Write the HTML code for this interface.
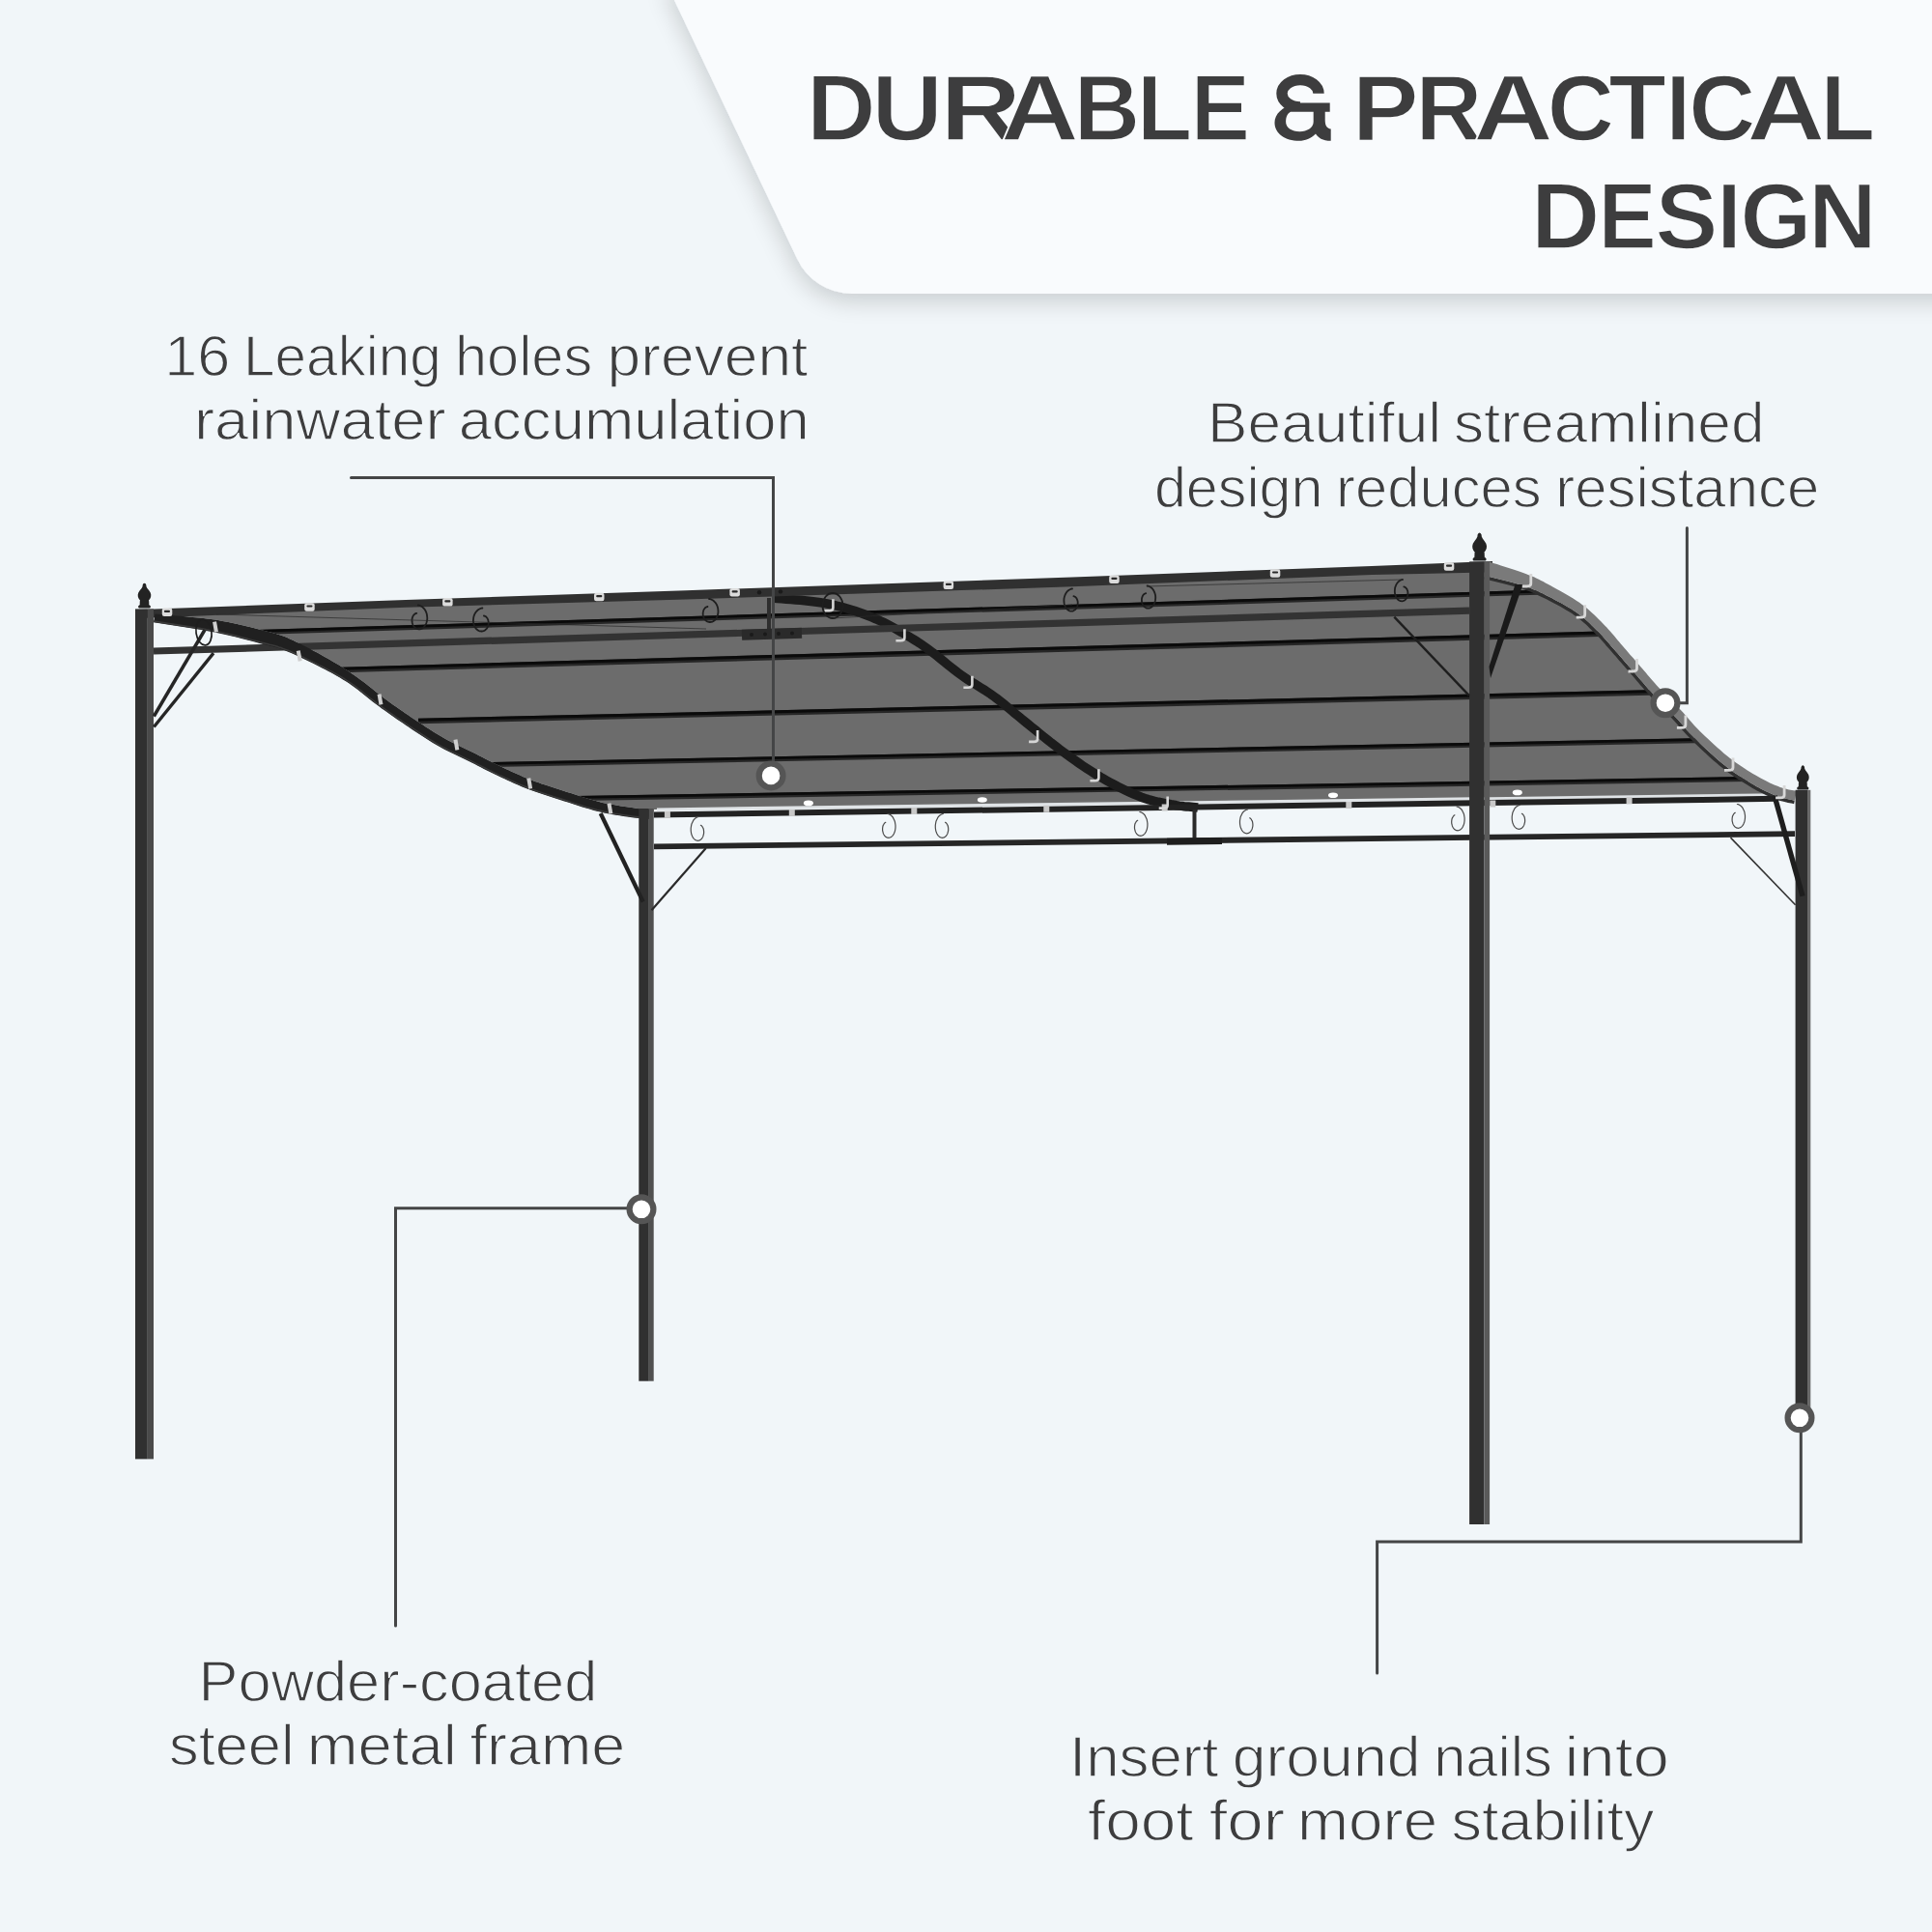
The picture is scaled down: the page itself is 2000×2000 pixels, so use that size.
<!DOCTYPE html><html><head><meta charset="utf-8"><style>html,body{margin:0;padding:0;background:#f1f6f9;}svg{display:block}</style></head><body>
<svg xmlns="http://www.w3.org/2000/svg" width="2000" height="2000" viewBox="0 0 2000 2000">
<defs><filter id="shadow" x="-20%" y="-30%" width="140%" height="170%"><feGaussianBlur in="SourceAlpha" stdDeviation="12"/><feOffset dx="-1" dy="8"/><feComponentTransfer><feFuncA type="linear" slope="0.17"/></feComponentTransfer><feMerge><feMergeNode/><feMergeNode in="SourceGraphic"/></feMerge></filter></defs>
<rect width="2000" height="2000" fill="#f1f6f9"/>
<path d="M688.5,-20 L825.4,268.3 A62.5,62.5 0 0 0 881.9,304 L2030,304 L2030,-20 Z" fill="#f9fbfd" filter="url(#shadow)"/>
<g font-family="Liberation Sans" font-weight="700" font-size="96.5" fill="#3d3d3e" stroke="#f9fbfd" stroke-width="1.6">
<text x="834.9" y="145" textLength="71.6" lengthAdjust="spacingAndGlyphs">D</text>
<text x="902.6" y="145" textLength="73.4" lengthAdjust="spacingAndGlyphs">U</text>
<text x="972.9" y="145" textLength="84.4" lengthAdjust="spacingAndGlyphs">R</text>
<text x="1035.7" y="145" textLength="81.2" lengthAdjust="spacingAndGlyphs">A</text>
<text x="1111.7" y="145" textLength="68.4" lengthAdjust="spacingAndGlyphs">B</text>
<text x="1177.1" y="145" textLength="57.1" lengthAdjust="spacingAndGlyphs">L</text>
<text x="1232.7" y="145" textLength="61.2" lengthAdjust="spacingAndGlyphs">E</text>
<g stroke="none"><path d="M1365,96.8 A19,14.2 0 1 0 1346,111" fill="none" stroke="#3d3d3e" stroke-width="11.4"/><path fill="#3d3d3e" d="M1340,106.4 L1376.7,106.4 L1376.7,115.8 L1371.7,115.8 L1371.7,124 C1371.7,130 1373.5,133 1377.7,133.4 L1377.7,145.8 C1369,145.8 1364.5,142.5 1362,138.5 C1357,143.5 1351,145.8 1345,145.8 C1330,145.8 1319.5,138 1319.5,127 C1319.5,118 1327,111 1340,106.4 Z"/><path fill="#f9fbfd" d="M1336,115.8 L1359.7,115.8 L1359.7,126 C1359.7,132 1353,136.3 1345.5,136.3 C1337,136.3 1331.1,132 1331.1,126 C1331.1,120.5 1333,117.5 1336,115.8 Z"/></g>
<text x="1399.7" y="145" textLength="68.9" lengthAdjust="spacingAndGlyphs">P</text>
<text x="1465.5" y="145" textLength="68.8" lengthAdjust="spacingAndGlyphs">R</text>
<text x="1525.0" y="145" textLength="83.0" lengthAdjust="spacingAndGlyphs">A</text>
<text x="1601.7" y="145" textLength="69.2" lengthAdjust="spacingAndGlyphs">C</text>
<text x="1665.3" y="145" textLength="59.6" lengthAdjust="spacingAndGlyphs">T</text>
<text x="1724.4" y="145" textLength="25.6" lengthAdjust="spacingAndGlyphs">I</text>
<text x="1748.2" y="145" textLength="69.1" lengthAdjust="spacingAndGlyphs">C</text>
<text x="1808.3" y="145" textLength="81.2" lengthAdjust="spacingAndGlyphs">A</text>
<text x="1884.7" y="145" textLength="56.3" lengthAdjust="spacingAndGlyphs">L</text>
<text x="1585.1" y="257" textLength="71.3" lengthAdjust="spacingAndGlyphs">D</text>
<text x="1654.4" y="257" textLength="60.2" lengthAdjust="spacingAndGlyphs">E</text>
<text x="1713.5" y="257" textLength="64.9" lengthAdjust="spacingAndGlyphs">S</text>
<text x="1777.6" y="257" textLength="25.0" lengthAdjust="spacingAndGlyphs">I</text>
<text x="1801.4" y="257" textLength="73.8" lengthAdjust="spacingAndGlyphs">G</text>
<text x="1871.9" y="257" textLength="70.8" lengthAdjust="spacingAndGlyphs">N</text>
</g>
<g font-family="Liberation Sans" font-weight="400" fill="#3d3d3e" font-size="59.5" stroke="#f1f6f9" stroke-width="1.3">
<text x="170.3" y="388.8" textLength="68.1" lengthAdjust="spacingAndGlyphs">16</text>
<text x="252.1" y="388.8" textLength="204.8" lengthAdjust="spacingAndGlyphs">Leaking</text>
<text x="471.0" y="388.8" textLength="142.2" lengthAdjust="spacingAndGlyphs">holes</text>
<text x="628.5" y="388.8" textLength="207.9" lengthAdjust="spacingAndGlyphs">prevent</text>
<text x="200.9" y="455.3" textLength="260.8" lengthAdjust="spacingAndGlyphs">rainwater</text>
<text x="474.8" y="455.3" textLength="363.0" lengthAdjust="spacingAndGlyphs">accumulation</text>
<text x="1250.1" y="458.3" textLength="242.1" lengthAdjust="spacingAndGlyphs">Beautiful</text>
<text x="1504.9" y="458.3" textLength="321.7" lengthAdjust="spacingAndGlyphs">streamlined</text>
<text x="1194.9" y="524.6" textLength="174.6" lengthAdjust="spacingAndGlyphs">design</text>
<text x="1383.0" y="524.6" textLength="212.7" lengthAdjust="spacingAndGlyphs">reduces</text>
<text x="1610.3" y="524.6" textLength="272.9" lengthAdjust="spacingAndGlyphs">resistance</text>
<text x="205.6" y="1760.9" textLength="412.7" lengthAdjust="spacingAndGlyphs">Powder-coated</text>
<text x="175.0" y="1827.1" textLength="129.6" lengthAdjust="spacingAndGlyphs">steel</text>
<text x="317.7" y="1827.1" textLength="155.1" lengthAdjust="spacingAndGlyphs">metal</text>
<text x="486.6" y="1827.1" textLength="160.7" lengthAdjust="spacingAndGlyphs">frame</text>
<text x="1107.0" y="1839" textLength="154.5" lengthAdjust="spacingAndGlyphs">Insert</text>
<text x="1275.7" y="1839" textLength="194.8" lengthAdjust="spacingAndGlyphs">ground</text>
<text x="1484.2" y="1839" textLength="122.7" lengthAdjust="spacingAndGlyphs">nails</text>
<text x="1619.4" y="1839" textLength="108.4" lengthAdjust="spacingAndGlyphs">into</text>
<text x="1126.0" y="1905" textLength="109.6" lengthAdjust="spacingAndGlyphs">foot</text>
<text x="1251.7" y="1905" textLength="78.5" lengthAdjust="spacingAndGlyphs">for</text>
<text x="1343.1" y="1905" textLength="145.0" lengthAdjust="spacingAndGlyphs">more</text>
<text x="1502.6" y="1905" textLength="210.0" lengthAdjust="spacingAndGlyphs">stability</text>
</g>
<path d="M150.0,636.0 L1545.0,587.0 L1537.3,595.9 L1541.3,596.9 L1545.4,597.9 L1549.5,599.0 L1553.6,600.0 L1557.7,601.0 L1561.6,602.0 L1565.4,603.0 L1569.1,603.9 L1572.4,604.9 L1575.6,605.9 L1578.5,606.8 L1581.1,607.7 L1583.4,608.6 L1585.7,609.5 L1587.8,610.4 L1589.9,611.3 L1592.1,612.3 L1594.5,613.4 L1597.1,614.6 L1599.9,616.0 L1603.0,617.5 L1606.2,619.1 L1609.5,620.9 L1612.9,622.7 L1616.4,624.6 L1619.8,626.5 L1623.1,628.4 L1626.3,630.3 L1629.2,632.2 L1631.9,634.0 L1634.5,635.9 L1636.9,637.7 L1639.2,639.6 L1641.5,641.6 L1643.7,643.6 L1645.9,645.6 L1648.0,647.7 L1650.1,649.8 L1652.3,651.9 L1654.4,654.0 L1656.4,656.0 L1658.3,658.0 L1660.1,660.0 L1661.9,662.0 L1663.7,664.1 L1665.5,666.1 L1667.3,668.2 L1669.2,670.4 L1671.1,672.5 L1673.0,674.7 L1674.9,676.8 L1676.7,679.0 L1678.6,681.1 L1680.4,683.3 L1682.3,685.4 L1684.2,687.5 L1686.0,689.7 L1687.9,691.8 L1689.7,694.0 L1691.6,696.1 L1693.4,698.2 L1695.2,700.3 L1697.0,702.4 L1698.8,704.5 L1700.6,706.6 L1702.5,708.8 L1704.4,711.0 L1706.3,713.2 L1708.4,715.5 L1710.5,717.8 L1712.7,720.2 L1715.1,722.7 L1717.5,725.1 L1720.0,727.6 L1722.4,730.1 L1724.9,732.6 L1727.3,735.0 L1729.7,737.4 L1731.9,739.7 L1734.0,742.0 L1736.0,744.1 L1737.8,746.1 L1739.5,748.1 L1741.3,750.1 L1743.0,752.1 L1744.8,754.2 L1746.8,756.4 L1748.9,758.7 L1751.2,761.1 L1753.7,763.6 L1756.4,766.3 L1759.2,769.1 L1762.3,772.0 L1765.5,775.0 L1768.8,778.0 L1772.1,781.1 L1775.4,784.1 L1778.8,787.0 L1782.1,789.7 L1785.3,792.3 L1788.4,794.8 L1791.6,797.1 L1794.7,799.4 L1797.8,801.5 L1800.9,803.5 L1803.9,805.5 L1806.9,807.3 L1809.7,809.1 L1812.5,810.7 L1815.2,812.3 L1817.9,813.9 L1820.5,815.3 L1823.0,816.7 L1825.5,818.0 L1828.0,819.2 L1830.4,820.3 L1832.7,821.3 L1835.0,822.3 L1837.2,823.2 L1839.4,824.1 L1841.7,824.9 L1843.9,825.6 L1846.0,826.2 L1848.0,826.7 L1849.8,827.1 L1851.6,827.5 L1853.2,827.8 L1854.8,828.1 L1856.2,828.4 L1857.8,828.8 L1700.0,826.0 L676.0,838.0 L676.6,838.0 L674.9,837.9 L673.2,837.8 L671.8,837.8 L670.4,837.8 L669.1,837.7 L667.7,837.7 L666.2,837.6 L664.5,837.4 L662.5,837.2 L660.1,836.9 L657.2,836.5 L654.0,836.1 L650.5,835.6 L646.8,835.0 L642.9,834.4 L639.0,833.8 L635.1,833.1 L631.2,832.4 L627.4,831.7 L623.8,830.9 L620.2,830.0 L616.7,829.1 L613.1,828.0 L609.5,827.0 L605.8,825.8 L602.2,824.7 L598.5,823.5 L594.7,822.3 L591.0,821.1 L587.2,819.9 L583.5,818.7 L579.7,817.5 L575.9,816.3 L572.1,815.1 L568.3,813.8 L564.6,812.6 L560.9,811.4 L557.3,810.1 L553.9,808.9 L550.6,807.7 L547.4,806.4 L544.3,805.2 L541.2,803.9 L538.3,802.6 L535.4,801.3 L532.4,800.0 L529.5,798.7 L526.6,797.3 L523.6,795.9 L520.6,794.5 L517.5,793.0 L514.5,791.5 L511.5,790.0 L508.4,788.5 L505.3,787.0 L502.3,785.4 L499.2,783.8 L496.0,782.2 L492.9,780.6 L489.8,779.0 L486.6,777.5 L483.4,776.0 L480.3,774.5 L477.2,773.0 L474.1,771.5 L471.0,770.0 L468.0,768.5 L465.0,767.0 L462.1,765.4 L459.1,763.8 L456.2,762.1 L453.2,760.3 L450.2,758.5 L447.1,756.6 L444.1,754.6 L441.1,752.7 L438.0,750.6 L434.9,748.6 L431.8,746.5 L428.8,744.5 L425.7,742.4 L422.6,740.3 L419.5,738.2 L416.4,736.1 L413.4,734.0 L410.3,731.8 L407.2,729.7 L404.1,727.5 L401.1,725.3 L398.0,723.1 L395.1,720.8 L392.1,718.5 L389.0,716.1 L386.0,713.6 L382.8,711.1 L379.7,708.6 L376.5,706.1 L373.3,703.7 L370.0,701.3 L366.7,699.0 L363.5,696.7 L360.3,694.6 L357.2,692.5 L354.1,690.6 L351.0,688.6 L347.9,686.8 L344.8,684.9 L341.6,683.1 L338.5,681.3 L335.2,679.5 L331.9,677.6 L328.3,675.6 L324.7,673.7 L321.0,671.7 L317.3,669.8 L313.6,667.9 L310.0,666.1 L306.5,664.4 L303.2,662.8 L300.1,661.4 L297.3,660.1 L294.8,659.1 L292.6,658.3 L290.5,657.5 L288.5,656.9 L286.5,656.3 L284.4,655.7 L282.1,655.0 L279.4,654.2 L276.2,653.4 L272.4,652.5 L268.1,651.4 L263.4,650.3 L258.5,649.1 L253.2,647.8 L247.7,646.5 L242.1,645.3 L236.3,644.0 L230.4,642.9 L224.5,641.7 L218.5,641.0 L212.3,640.2 L205.9,639.6 L199.5,638.9 L193.0,638.3 L186.4,637.8 L179.8,637.2 L173.3,636.6 L166.8,636.0 L160.4,635.4 Z" fill="#6c6c6c"/>
<polygon points="680.0,839.6 1845.0,824.4 1845.0,821.2 680.0,836.4" fill="#dfe3e6" />
<clipPath id="fabclip"><path d="M150.0,636.0 L1545.0,587.0 L1537.3,595.9 L1541.3,596.9 L1545.4,597.9 L1549.5,599.0 L1553.6,600.0 L1557.7,601.0 L1561.6,602.0 L1565.4,603.0 L1569.1,603.9 L1572.4,604.9 L1575.6,605.9 L1578.5,606.8 L1581.1,607.7 L1583.4,608.6 L1585.7,609.5 L1587.8,610.4 L1589.9,611.3 L1592.1,612.3 L1594.5,613.4 L1597.1,614.6 L1599.9,616.0 L1603.0,617.5 L1606.2,619.1 L1609.5,620.9 L1612.9,622.7 L1616.4,624.6 L1619.8,626.5 L1623.1,628.4 L1626.3,630.3 L1629.2,632.2 L1631.9,634.0 L1634.5,635.9 L1636.9,637.7 L1639.2,639.6 L1641.5,641.6 L1643.7,643.6 L1645.9,645.6 L1648.0,647.7 L1650.1,649.8 L1652.3,651.9 L1654.4,654.0 L1656.4,656.0 L1658.3,658.0 L1660.1,660.0 L1661.9,662.0 L1663.7,664.1 L1665.5,666.1 L1667.3,668.2 L1669.2,670.4 L1671.1,672.5 L1673.0,674.7 L1674.9,676.8 L1676.7,679.0 L1678.6,681.1 L1680.4,683.3 L1682.3,685.4 L1684.2,687.5 L1686.0,689.7 L1687.9,691.8 L1689.7,694.0 L1691.6,696.1 L1693.4,698.2 L1695.2,700.3 L1697.0,702.4 L1698.8,704.5 L1700.6,706.6 L1702.5,708.8 L1704.4,711.0 L1706.3,713.2 L1708.4,715.5 L1710.5,717.8 L1712.7,720.2 L1715.1,722.7 L1717.5,725.1 L1720.0,727.6 L1722.4,730.1 L1724.9,732.6 L1727.3,735.0 L1729.7,737.4 L1731.9,739.7 L1734.0,742.0 L1736.0,744.1 L1737.8,746.1 L1739.5,748.1 L1741.3,750.1 L1743.0,752.1 L1744.8,754.2 L1746.8,756.4 L1748.9,758.7 L1751.2,761.1 L1753.7,763.6 L1756.4,766.3 L1759.2,769.1 L1762.3,772.0 L1765.5,775.0 L1768.8,778.0 L1772.1,781.1 L1775.4,784.1 L1778.8,787.0 L1782.1,789.7 L1785.3,792.3 L1788.4,794.8 L1791.6,797.1 L1794.7,799.4 L1797.8,801.5 L1800.9,803.5 L1803.9,805.5 L1806.9,807.3 L1809.7,809.1 L1812.5,810.7 L1815.2,812.3 L1817.9,813.9 L1820.5,815.3 L1823.0,816.7 L1825.5,818.0 L1828.0,819.2 L1830.4,820.3 L1832.7,821.3 L1835.0,822.3 L1837.2,823.2 L1839.4,824.1 L1841.7,824.9 L1843.9,825.6 L1846.0,826.2 L1848.0,826.7 L1849.8,827.1 L1851.6,827.5 L1853.2,827.8 L1854.8,828.1 L1856.2,828.4 L1857.8,828.8 L1700.0,826.0 L676.0,838.0 L676.6,838.0 L674.9,837.9 L673.2,837.8 L671.8,837.8 L670.4,837.8 L669.1,837.7 L667.7,837.7 L666.2,837.6 L664.5,837.4 L662.5,837.2 L660.1,836.9 L657.2,836.5 L654.0,836.1 L650.5,835.6 L646.8,835.0 L642.9,834.4 L639.0,833.8 L635.1,833.1 L631.2,832.4 L627.4,831.7 L623.8,830.9 L620.2,830.0 L616.7,829.1 L613.1,828.0 L609.5,827.0 L605.8,825.8 L602.2,824.7 L598.5,823.5 L594.7,822.3 L591.0,821.1 L587.2,819.9 L583.5,818.7 L579.7,817.5 L575.9,816.3 L572.1,815.1 L568.3,813.8 L564.6,812.6 L560.9,811.4 L557.3,810.1 L553.9,808.9 L550.6,807.7 L547.4,806.4 L544.3,805.2 L541.2,803.9 L538.3,802.6 L535.4,801.3 L532.4,800.0 L529.5,798.7 L526.6,797.3 L523.6,795.9 L520.6,794.5 L517.5,793.0 L514.5,791.5 L511.5,790.0 L508.4,788.5 L505.3,787.0 L502.3,785.4 L499.2,783.8 L496.0,782.2 L492.9,780.6 L489.8,779.0 L486.6,777.5 L483.4,776.0 L480.3,774.5 L477.2,773.0 L474.1,771.5 L471.0,770.0 L468.0,768.5 L465.0,767.0 L462.1,765.4 L459.1,763.8 L456.2,762.1 L453.2,760.3 L450.2,758.5 L447.1,756.6 L444.1,754.6 L441.1,752.7 L438.0,750.6 L434.9,748.6 L431.8,746.5 L428.8,744.5 L425.7,742.4 L422.6,740.3 L419.5,738.2 L416.4,736.1 L413.4,734.0 L410.3,731.8 L407.2,729.7 L404.1,727.5 L401.1,725.3 L398.0,723.1 L395.1,720.8 L392.1,718.5 L389.0,716.1 L386.0,713.6 L382.8,711.1 L379.7,708.6 L376.5,706.1 L373.3,703.7 L370.0,701.3 L366.7,699.0 L363.5,696.7 L360.3,694.6 L357.2,692.5 L354.1,690.6 L351.0,688.6 L347.9,686.8 L344.8,684.9 L341.6,683.1 L338.5,681.3 L335.2,679.5 L331.9,677.6 L328.3,675.6 L324.7,673.7 L321.0,671.7 L317.3,669.8 L313.6,667.9 L310.0,666.1 L306.5,664.4 L303.2,662.8 L300.1,661.4 L297.3,660.1 L294.8,659.1 L292.6,658.3 L290.5,657.5 L288.5,656.9 L286.5,656.3 L284.4,655.7 L282.1,655.0 L279.4,654.2 L276.2,653.4 L272.4,652.5 L268.1,651.4 L263.4,650.3 L258.5,649.1 L253.2,647.8 L247.7,646.5 L242.1,645.3 L236.3,644.0 L230.4,642.9 L224.5,641.7 L218.5,641.0 L212.3,640.2 L205.9,639.6 L199.5,638.9 L193.0,638.3 L186.4,637.8 L179.8,637.2 L173.3,636.6 L166.8,636.0 L160.4,635.4 Z"/></clipPath>
<g clip-path="url(#fabclip)">
<polygon points="266.1,657.0 1600.1,615.5 1599.9,610.5 265.9,652.0" fill="#262626" />
<polygon points="266.0,654.8 1600.0,613.3 1600.0,610.5 266.0,652.0" fill="#0a0a0a" />
<polygon points="353.1,696.2 1700.1,657.7 1699.9,652.3 352.9,690.8" fill="#262626" />
<polygon points="353.0,693.8 1700.0,655.3 1700.0,652.3 353.0,690.8" fill="#0a0a0a" />
<polygon points="433.1,749.2 1750.1,718.7 1749.9,713.3 432.9,743.8" fill="#262626" />
<polygon points="433.0,746.8 1750.0,716.3 1750.0,713.3 433.0,743.8" fill="#0a0a0a" />
<polygon points="510.0,794.0 1790.0,768.5 1790.0,763.5 510.0,789.0" fill="#262626" />
<polygon points="510.0,791.8 1790.0,766.3 1790.0,763.5 510.0,789.0" fill="#0a0a0a" />
<polygon points="597.0,829.0 1840.0,808.5 1840.0,803.5 597.0,824.0" fill="#262626" />
<polygon points="597.0,826.8 1840.0,806.3 1840.0,803.5 597.0,824.0" fill="#0a0a0a" />
</g>
<polyline points="800.0,619.0 804.6,619.4 809.3,619.8 814.1,620.2 818.8,620.5 823.6,620.9 828.3,621.3 832.8,621.7 837.3,622.2 841.5,622.7 845.6,623.2 849.4,623.8 853.0,624.4 856.4,625.0 859.7,625.6 862.9,626.3 866.1,627.1 869.2,627.8 872.3,628.7 875.4,629.5 878.7,630.5 882.0,631.5 885.4,632.6 888.8,633.8 892.3,635.0 895.7,636.3 899.0,637.6 902.4,638.9 905.6,640.3 908.8,641.6 911.8,643.0 914.7,644.4 917.6,645.8 920.3,647.2 923.0,648.6 925.7,650.1 928.3,651.6 930.8,653.1 933.3,654.5 935.8,656.0 938.3,657.5 940.7,658.9 943.0,660.3 945.2,661.6 947.3,662.9 949.5,664.3 951.7,665.7 953.9,667.2 956.3,668.8 958.8,670.6 961.5,672.5 964.4,674.7 967.5,677.1 970.7,679.6 974.0,682.3 977.4,685.0 980.8,687.8 984.3,690.6 987.7,693.3 991.2,696.0 994.6,698.5 998.0,700.9 1001.4,703.2 1004.9,705.4 1008.4,707.6 1011.9,709.8 1015.4,712.0 1018.9,714.1 1022.3,716.4 1025.7,718.6 1029.0,721.0 1032.2,723.4 1035.3,725.8 1038.4,728.2 1041.3,730.7 1044.3,733.2 1047.3,735.7 1050.4,738.3 1053.6,740.9 1056.9,743.7 1060.4,746.5 1064.1,749.5 1067.9,752.6 1071.9,755.8 1075.9,759.1 1080.0,762.4 1084.2,765.7 1088.4,769.1 1092.6,772.3 1096.7,775.5 1100.8,778.5 1104.8,781.4 1108.9,784.3 1112.9,787.2 1116.9,790.0 1121.0,792.8 1125.0,795.5 1129.0,798.1 1133.0,800.6 1137.1,803.1 1141.1,805.5 1145.2,807.8 1149.3,810.1 1153.4,812.3 1157.6,814.5 1161.7,816.5 1165.8,818.5 1169.9,820.4 1173.8,822.1 1177.7,823.7 1181.5,825.2 1185.2,826.5 1188.8,827.6 1192.4,828.6 1195.9,829.5 1199.3,830.3 1202.7,830.9 1206.0,831.6 1209.1,832.1 1212.2,832.7 1215.2,833.2 1218.0,833.7 1220.7,834.1 1223.3,834.4 1225.8,834.7 1228.2,834.9 1230.5,835.1 1232.8,835.3 1235.2,835.5 1237.6,835.7 1240.0,836.0" fill="none" stroke="#1c1c1c" stroke-width="9.5"/>
<polygon points="159.1,677.6 1521.1,635.8 1520.9,628.6 158.9,670.4" fill="#333333" />
<path d="M146,631.0 L420,621.1 L710,611.2 L1110,597.6 L1420,586.0 L1470,584.0 L1545,581.0 L1545,592.3 L1470,593.9 L1420,594.9 L1110,607.3 L710,620.6 L420,628.8 L146,640.0 Z" fill="#303030"/>
<polygon points="159.0,644.3 165.4,645.3 171.8,646.3 178.3,647.3 184.8,648.3 191.3,649.3 197.7,650.3 204.0,651.3 210.2,652.3 216.2,653.4 222.0,654.5 227.7,655.7 233.4,656.9 239.0,658.2 244.5,659.6 249.9,660.9 255.0,662.3 260.0,663.5 264.6,664.8 268.8,665.9 272.7,666.9 276.0,667.8 278.8,668.4 281.1,669.0 283.1,669.5 284.9,670.0 286.7,670.4 288.4,671.0 290.4,671.7 292.6,672.5 295.2,673.5 298.2,674.7 301.4,676.1 304.9,677.6 308.4,679.2 312.1,680.9 315.8,682.7 319.4,684.4 323.1,686.2 326.6,688.0 330.0,689.7 333.3,691.4 336.5,693.0 339.6,694.7 342.7,696.3 345.8,698.0 348.8,699.7 351.9,701.5 354.9,703.4 358.0,705.3 361.1,707.3 364.2,709.4 367.3,711.7 370.4,714.1 373.5,716.5 376.6,718.9 379.7,721.4 382.8,723.9 385.9,726.4 389.0,728.8 392.1,731.1 395.2,733.4 398.3,735.6 401.4,737.8 404.5,740.0 407.7,742.2 410.8,744.4 413.9,746.5 417.0,748.6 420.1,750.7 423.2,752.8 426.3,754.9 429.4,756.9 432.5,759.0 435.6,761.0 438.7,763.0 441.8,765.0 444.9,767.0 448.0,768.9 451.1,770.7 454.2,772.5 457.3,774.2 460.4,775.9 463.5,777.5 466.6,779.0 469.8,780.5 472.9,782.0 476.0,783.5 479.1,785.0 482.2,786.5 485.3,788.0 488.4,789.6 491.5,791.1 494.6,792.7 497.7,794.3 500.8,795.9 503.9,797.4 507.0,799.0 510.1,800.5 513.2,802.0 516.3,803.5 519.4,804.9 522.4,806.3 525.3,807.7 528.3,809.1 531.3,810.4 534.3,811.8 537.3,813.1 540.4,814.4 543.7,815.7 547.0,817.0 550.5,818.3 554.0,819.6 557.7,820.8 561.4,822.1 565.2,823.3 569.0,824.6 572.8,825.8 576.6,827.0 580.4,828.2 584.2,829.4 587.9,830.6 591.7,831.8 595.4,833.0 599.1,834.2 602.8,835.4 606.6,836.5 610.3,837.6 614.0,838.7 617.8,839.7 621.5,840.6 625.3,841.4 629.3,842.2 633.3,843.0 637.4,843.7 641.4,844.3 645.3,844.9 649.1,845.5 652.6,846.0 655.9,846.4 658.8,846.8 661.3,847.1 663.5,847.4 665.4,847.5 667.1,847.6 668.7,847.7 670.1,847.8 671.5,847.8 672.9,847.8 674.4,847.9 676.0,848.0 676.6,838.0 674.9,837.9 673.2,837.8 671.8,837.8 670.4,837.8 669.1,837.7 667.7,837.7 666.2,837.6 664.5,837.4 662.5,837.2 660.1,836.9 657.2,836.5 654.0,836.1 650.5,835.6 646.8,835.0 642.9,834.4 639.0,833.8 635.1,833.1 631.2,832.4 627.4,831.7 623.8,830.9 620.2,830.0 616.7,829.1 613.1,828.0 609.5,827.0 605.8,825.8 602.2,824.7 598.5,823.5 594.7,822.3 591.0,821.1 587.2,819.9 583.5,818.7 579.7,817.5 575.9,816.3 572.1,815.1 568.3,813.8 564.6,812.6 560.9,811.4 557.3,810.1 553.9,808.9 550.6,807.7 547.4,806.4 544.3,805.2 541.2,803.9 538.3,802.6 535.4,801.3 532.4,800.0 529.5,798.7 526.6,797.3 523.6,795.9 520.6,794.5 517.5,793.0 514.5,791.5 511.5,790.0 508.4,788.5 505.3,787.0 502.3,785.4 499.2,783.8 496.0,782.2 492.9,780.6 489.8,779.0 486.6,777.5 483.4,776.0 480.3,774.5 477.2,773.0 474.1,771.5 471.0,770.0 468.0,768.5 465.0,767.0 462.1,765.4 459.1,763.8 456.2,762.1 453.2,760.3 450.2,758.5 447.1,756.6 444.1,754.6 441.1,752.7 438.0,750.6 434.9,748.6 431.8,746.5 428.8,744.5 425.7,742.4 422.6,740.3 419.5,738.2 416.4,736.1 413.4,734.0 410.3,731.8 407.2,729.7 404.1,727.5 401.1,725.3 398.0,723.1 395.1,720.8 392.1,718.5 389.0,716.1 386.0,713.6 382.8,711.1 379.7,708.6 376.5,706.1 373.3,703.7 370.0,701.3 366.7,699.0 363.5,696.7 360.3,694.6 357.2,692.5 354.1,690.6 351.0,688.6 347.9,686.8 344.8,684.9 341.6,683.1 338.5,681.3 335.2,679.5 331.9,677.6 328.3,675.6 324.7,673.7 321.0,671.7 317.3,669.8 313.6,667.9 310.0,666.1 306.5,664.4 303.2,662.8 300.1,661.4 297.3,660.1 294.8,659.1 292.6,658.3 290.5,657.5 288.5,656.9 286.5,656.3 284.4,655.7 282.1,655.0 279.4,654.2 276.2,653.4 272.4,652.5 268.1,651.4 263.4,650.3 258.5,649.1 253.2,647.8 247.7,646.5 242.1,645.3 236.3,644.0 230.4,642.9 224.5,641.7 218.5,641.0 212.3,640.2 205.9,639.6 199.5,638.9 193.0,638.3 186.4,637.8 179.8,637.2 173.3,636.6 166.8,636.0 160.4,635.4" fill="#202020"/>
<polyline points="159.2,643.1 165.5,644.1 172.0,645.1 178.5,646.1 185.0,647.1 191.5,648.1 197.9,649.1 204.2,650.1 210.4,651.1 216.4,652.2 222.2,653.3 227.9,654.5 233.6,655.8 239.3,657.1 244.8,658.4 250.2,659.8 255.3,661.1 260.3,662.4 264.9,663.6 269.1,664.7 273.0,665.7 276.3,666.6 279.1,667.3 281.4,667.8 283.4,668.3 285.3,668.8 287.0,669.3 288.8,669.9 290.8,670.5 293.0,671.4 295.6,672.4 298.7,673.6 301.9,675.0 305.3,676.5 308.9,678.1 312.6,679.8 316.3,681.6 320.0,683.4 323.6,685.1 327.2,686.9 330.5,688.6 333.8,690.3 337.0,692.0 340.2,693.6 343.3,695.3 346.4,697.0 349.4,698.7 352.5,700.5 355.6,702.3 358.7,704.3 361.8,706.3 364.9,708.5 368.0,710.7 371.1,713.1 374.2,715.5 377.3,718.0 380.4,720.5 383.5,723.0 386.6,725.4 389.7,727.8 392.8,730.1 395.9,732.4 399.0,734.6 402.1,736.8 405.2,739.0 408.3,741.2 411.4,743.4 414.6,745.5 417.7,747.6 420.8,749.7 423.9,751.8 427.0,753.9 430.1,755.9 433.2,758.0 436.3,760.0 439.4,762.0 442.4,764.0 445.5,765.9 448.6,767.8 451.7,769.7 454.8,771.5 457.9,773.2 461.0,774.8 464.1,776.4 467.2,777.9 470.3,779.4 473.4,780.9 476.5,782.4 479.6,783.9 482.7,785.4 485.8,786.9 488.9,788.5 492.1,790.1 495.2,791.6 498.3,793.2 501.4,794.8 504.5,796.4 507.6,797.9 510.6,799.5 513.7,800.9 516.8,802.4 519.9,803.8 522.9,805.3 525.8,806.6 528.8,808.0 531.8,809.3 534.7,810.7 537.8,812.0 540.9,813.3 544.1,814.6 547.4,815.9 550.9,817.2 554.4,818.4 558.1,819.7 561.8,821.0 565.6,822.2 569.4,823.4 573.2,824.7 577.0,825.9 580.8,827.1 584.6,828.3 588.3,829.4 592.0,830.7 595.8,831.9 599.5,833.1 603.2,834.2 606.9,835.4 610.6,836.5 614.4,837.5 618.1,838.5 621.8,839.4 625.6,840.3 629.5,841.1 633.5,841.8 637.6,842.5 641.6,843.1 645.5,843.7 649.3,844.3 652.8,844.8 656.0,845.2 659.0,845.6 661.5,845.9 663.6,846.2 665.5,846.3 667.2,846.4 668.7,846.5 670.1,846.6 671.5,846.6 672.9,846.6 674.4,846.7 676.1,846.8" fill="none" stroke="#3a3a3a" stroke-width="1.6"/>
<clipPath id="rsclip"><rect x="1500" y="560" width="362" height="300"/></clipPath><g clip-path="url(#rsclip)">
<polygon points="1537.3,595.9 1541.3,596.9 1545.4,597.9 1549.5,599.0 1553.6,600.0 1557.7,601.0 1561.6,602.0 1565.4,603.0 1569.1,603.9 1572.4,604.9 1575.6,605.9 1578.5,606.8 1581.1,607.7 1583.4,608.6 1585.7,609.5 1587.8,610.4 1589.9,611.3 1592.1,612.3 1594.5,613.4 1597.1,614.6 1599.9,616.0 1603.0,617.5 1606.2,619.1 1609.5,620.9 1612.9,622.7 1616.4,624.6 1619.8,626.5 1623.1,628.4 1626.3,630.3 1629.2,632.2 1631.9,634.0 1634.5,635.9 1636.9,637.7 1639.2,639.6 1641.5,641.6 1643.7,643.6 1645.9,645.6 1648.0,647.7 1650.1,649.8 1652.3,651.9 1654.4,654.0 1656.4,656.0 1658.3,658.0 1660.1,660.0 1661.9,662.0 1663.7,664.1 1665.5,666.1 1667.3,668.2 1669.2,670.4 1671.1,672.5 1673.0,674.7 1674.9,676.8 1676.7,679.0 1678.6,681.1 1680.4,683.3 1682.3,685.4 1684.2,687.5 1686.0,689.7 1687.9,691.8 1689.7,694.0 1691.6,696.1 1693.4,698.2 1695.2,700.3 1697.0,702.4 1698.8,704.5 1700.6,706.6 1702.5,708.8 1704.4,711.0 1706.3,713.2 1708.4,715.5 1710.5,717.8 1712.7,720.2 1715.1,722.7 1717.5,725.1 1720.0,727.6 1722.4,730.1 1724.9,732.6 1727.3,735.0 1729.7,737.4 1731.9,739.7 1734.0,742.0 1736.0,744.1 1737.8,746.1 1739.5,748.1 1741.3,750.1 1743.0,752.1 1744.8,754.2 1746.8,756.4 1748.9,758.7 1751.2,761.1 1753.7,763.6 1756.4,766.3 1759.2,769.1 1762.3,772.0 1765.5,775.0 1768.8,778.0 1772.1,781.1 1775.4,784.1 1778.8,787.0 1782.1,789.7 1785.3,792.3 1788.4,794.8 1791.6,797.1 1794.7,799.4 1797.8,801.5 1800.9,803.5 1803.9,805.5 1806.9,807.3 1809.7,809.1 1812.5,810.7 1815.2,812.3 1817.9,813.9 1820.5,815.3 1823.0,816.7 1825.5,818.0 1828.0,819.2 1830.4,820.3 1832.7,821.3 1835.0,822.3 1837.2,823.2 1839.4,824.1 1841.7,824.9 1843.9,825.6 1846.0,826.2 1848.0,826.7 1849.8,827.1 1851.6,827.5 1853.2,827.8 1854.8,828.1 1856.2,828.4 1857.8,828.8 1857.1,832.2 1855.5,831.8 1854.1,831.5 1852.6,831.2 1850.9,830.9 1849.1,830.5 1847.2,830.1 1845.1,829.6 1842.9,829.0 1840.6,828.3 1838.2,827.4 1835.9,826.5 1833.6,825.6 1831.3,824.6 1828.9,823.5 1826.5,822.3 1824.0,821.1 1821.4,819.8 1818.8,818.4 1816.2,816.9 1813.5,815.4 1810.8,813.8 1808.0,812.1 1805.1,810.3 1802.1,808.4 1799.0,806.5 1795.9,804.4 1792.7,802.2 1789.5,800.0 1786.3,797.6 1783.1,795.1 1779.9,792.5 1776.5,789.6 1773.1,786.7 1769.8,783.7 1766.4,780.6 1763.1,777.5 1759.9,774.5 1756.8,771.6 1753.9,768.8 1751.2,766.1 1748.7,763.6 1746.3,761.1 1744.2,758.8 1742.2,756.6 1740.4,754.4 1738.6,752.4 1736.9,750.4 1735.2,748.4 1733.4,746.4 1731.5,744.4 1729.4,742.2 1727.1,739.9 1724.8,737.5 1722.4,735.0 1719.9,732.6 1717.5,730.1 1715.0,727.6 1712.6,725.1 1710.2,722.6 1707.9,720.2 1705.8,717.8 1703.7,715.5 1701.7,713.3 1699.8,711.1 1697.9,708.9 1696.1,706.8 1694.3,704.7 1692.5,702.6 1690.8,700.5 1689.0,698.4 1687.1,696.3 1685.2,694.1 1683.4,692.0 1681.5,689.8 1679.7,687.7 1677.8,685.6 1675.9,683.4 1674.1,681.3 1672.2,679.1 1670.3,677.0 1668.4,674.8 1666.5,672.6 1664.7,670.5 1662.8,668.4 1661.1,666.3 1659.3,664.3 1657.5,662.3 1655.7,660.3 1653.8,658.4 1651.9,656.4 1649.8,654.3 1647.6,652.2 1645.5,650.2 1643.4,648.1 1641.3,646.1 1639.1,644.2 1636.9,642.3 1634.6,640.4 1632.3,638.6 1629.9,636.9 1627.2,635.1 1624.3,633.3 1621.2,631.4 1618.0,629.5 1614.6,627.6 1611.2,625.7 1607.8,623.9 1604.5,622.2 1601.3,620.6 1598.2,619.1 1595.4,617.7 1592.8,616.5 1590.5,615.4 1588.3,614.4 1586.2,613.5 1584.2,612.6 1582.0,611.8 1579.7,610.9 1577.1,610.1 1574.3,609.1 1571.2,608.2 1567.9,607.2 1564.3,606.3 1560.5,605.3 1556.6,604.3 1552.6,603.3 1548.5,602.3 1544.3,601.3 1540.2,600.2 1536.2,599.2" fill="#303030"/>
<polygon points="1541.9,581.6 1545.8,582.9 1549.7,584.1 1553.8,585.4 1557.8,586.7 1561.8,587.9 1565.8,589.2 1569.6,590.5 1573.3,591.7 1576.8,593.0 1580.1,594.2 1583.1,595.4 1585.8,596.5 1588.4,597.6 1590.7,598.7 1593.0,599.8 1595.2,600.9 1597.5,602.1 1599.9,603.4 1602.4,604.8 1605.2,606.3 1608.2,607.9 1611.4,609.7 1614.7,611.6 1618.2,613.5 1621.7,615.5 1625.1,617.6 1628.5,619.6 1631.8,621.7 1635.0,623.8 1637.9,625.9 1640.6,628.0 1643.2,630.1 1645.7,632.2 1648.1,634.4 1650.4,636.5 1652.7,638.7 1654.9,640.9 1657.0,643.1 1659.1,645.2 1661.2,647.4 1663.3,649.5 1665.2,651.7 1667.1,653.8 1669.0,656.0 1670.8,658.1 1672.6,660.2 1674.4,662.4 1676.2,664.5 1678.0,666.7 1679.8,668.8 1681.7,670.9 1683.5,673.1 1685.4,675.2 1687.2,677.4 1689.1,679.5 1691.0,681.6 1692.8,683.8 1694.7,685.9 1696.5,688.1 1698.4,690.2 1700.2,692.3 1702.1,694.5 1703.9,696.6 1705.6,698.7 1707.4,700.8 1709.3,702.9 1711.1,705.1 1713.1,707.2 1715.0,709.4 1717.1,711.7 1719.3,714.0 1721.6,716.4 1723.9,718.8 1726.4,721.3 1728.8,723.8 1731.3,726.2 1733.7,728.7 1736.1,731.1 1738.4,733.5 1740.6,735.8 1742.7,738.0 1744.6,740.2 1746.4,742.2 1748.1,744.2 1749.8,746.3 1751.6,748.3 1753.5,750.4 1755.4,752.6 1757.6,754.8 1760.0,757.2 1762.6,759.8 1765.5,762.5 1768.5,765.3 1771.7,768.3 1774.9,771.3 1778.2,774.2 1781.5,777.1 1784.7,779.9 1787.9,782.5 1791.0,785.0 1794.0,787.3 1797.0,789.5 1800.0,791.6 1803.0,793.6 1806.0,795.6 1808.9,797.4 1811.8,799.2 1814.6,800.9 1817.4,802.5 1820.0,804.0 1822.6,805.4 1825.0,806.8 1827.5,808.1 1829.8,809.3 1832.1,810.4 1834.4,811.4 1836.6,812.4 1838.7,813.3 1840.8,814.1 1842.8,814.9 1844.7,815.6 1846.6,816.2 1848.4,816.6 1850.1,817.0 1851.7,817.4 1853.4,817.7 1855.0,818.0 1856.6,818.3 1858.3,818.6 1860.0,819.0 1857.8,828.8 1856.2,828.4 1854.8,828.1 1853.2,827.8 1851.6,827.5 1849.8,827.1 1848.0,826.7 1846.0,826.2 1843.9,825.6 1841.7,824.9 1839.4,824.1 1837.2,823.2 1835.0,822.3 1832.7,821.3 1830.4,820.3 1828.0,819.2 1825.5,818.0 1823.0,816.7 1820.5,815.3 1817.9,813.9 1815.2,812.3 1812.5,810.7 1809.7,809.1 1806.9,807.3 1803.9,805.5 1800.9,803.5 1797.8,801.5 1794.7,799.4 1791.6,797.1 1788.4,794.8 1785.3,792.3 1782.1,789.7 1778.8,787.0 1775.4,784.1 1772.1,781.1 1768.8,778.0 1765.5,775.0 1762.3,772.0 1759.2,769.1 1756.4,766.3 1753.7,763.6 1751.2,761.1 1748.9,758.7 1746.8,756.4 1744.8,754.2 1743.0,752.1 1741.3,750.1 1739.5,748.1 1737.8,746.1 1736.0,744.1 1734.0,742.0 1731.9,739.7 1729.7,737.4 1727.3,735.0 1724.9,732.6 1722.4,730.1 1720.0,727.6 1717.5,725.1 1715.1,722.7 1712.7,720.2 1710.5,717.8 1708.4,715.5 1706.3,713.2 1704.4,711.0 1702.5,708.8 1700.6,706.6 1698.8,704.5 1697.0,702.4 1695.2,700.3 1693.4,698.2 1691.6,696.1 1689.7,694.0 1687.9,691.8 1686.0,689.7 1684.2,687.5 1682.3,685.4 1680.4,683.3 1678.6,681.1 1676.7,679.0 1674.9,676.8 1673.0,674.7 1671.1,672.5 1669.2,670.4 1667.3,668.2 1665.5,666.1 1663.7,664.1 1661.9,662.0 1660.1,660.0 1658.3,658.0 1656.4,656.0 1654.4,654.0 1652.3,651.9 1650.1,649.8 1648.0,647.7 1645.9,645.6 1643.7,643.6 1641.5,641.6 1639.2,639.6 1636.9,637.7 1634.5,635.9 1631.9,634.0 1629.2,632.2 1626.3,630.3 1623.1,628.4 1619.8,626.5 1616.4,624.6 1612.9,622.7 1609.5,620.9 1606.2,619.1 1603.0,617.5 1599.9,616.0 1597.1,614.6 1594.5,613.4 1592.1,612.3 1589.9,611.3 1587.8,610.4 1585.7,609.5 1583.4,608.6 1581.1,607.7 1578.5,606.8 1575.6,605.9 1572.4,604.9 1569.1,603.9 1565.4,603.0 1561.6,602.0 1557.7,601.0 1553.6,600.0 1549.5,599.0 1545.4,597.9 1541.3,596.9 1537.3,595.9" fill="#7a7a7a"/>
</g>
<polygon points="677.0,846.5 1840.0,829.8 1840.0,823.8 677.0,840.5" fill="#222222" />
<polygon points="677.0,879.3 1858.0,866.1 1858.0,860.3 677.0,873.5" fill="#262626" />
<polygon points="1234.5,838.0 1234.5,870.0 1238.5,870.0 1238.5,838.0" fill="#2a2a2a" />
<polygon points="1208.0,874.8 1265.0,874.1 1265.0,867.1 1208.0,867.8" fill="#1e1e1e" />
<rect x="140" y="630.4" width="12.800000000000011" height="880.0000000000001" fill="#303030"/>
<rect x="152.8" y="630.4" width="6.199999999999989" height="880.0000000000001" fill="#4a4a4a"/>
<rect x="661.3" y="837" width="10.5" height="592.7" fill="#303030"/>
<rect x="671.8" y="837" width="4.900000000000091" height="592.7" fill="#505050"/>
<rect x="1521.1" y="581.4" width="15.400000000000091" height="996.6" fill="#303030"/>
<rect x="1536.5" y="581.4" width="5.599999999999909" height="996.6" fill="#5a5a5a"/>
<rect x="1858.6" y="817.8" width="12.400000000000091" height="652.2" fill="#303030"/>
<rect x="1871" y="817.8" width="3.2999999999999545" height="652.2" fill="#6a6a6a"/>
<polygon points="150.6,604.3 151.3,605.4 151.5,607.2 152.4,609.0 154.3,611.3 155.7,613.6 156.3,615.8 156.1,618.1 155.2,619.9 154.1,621.3 154.0,622.2 154.5,622.9 154.0,623.9 154.5,624.8 154.1,625.9 155.2,626.8 155.9,627.5 155.7,628.9 155.0,629.5 144.0,629.5 143.3,628.9 143.1,627.5 143.8,626.8 144.9,625.9 144.5,624.8 145.0,623.9 144.5,622.9 145.0,622.2 144.9,621.3 143.8,619.9 142.9,618.1 142.7,615.8 143.3,613.6 144.7,611.3 146.6,609.0 147.5,607.2 147.7,605.4 148.4,604.3" fill="#232323"/>
<ellipse cx="149.5" cy="605.0928571428572" rx="1.1027027027027025" ry="1.4571428571428573" fill="#232323"/>
<polygon points="1532.8,552.3 1533.6,553.5 1533.8,555.6 1534.8,557.6 1536.8,560.2 1538.4,562.7 1539.0,565.3 1538.8,567.8 1537.8,569.9 1536.6,571.4 1536.5,572.4 1537.0,573.2 1536.5,574.3 1537.0,575.3 1536.6,576.5 1537.8,577.5 1538.6,578.4 1538.4,579.9 1537.6,580.6 1525.6,580.6 1524.8,579.9 1524.6,578.4 1525.4,577.5 1526.6,576.5 1526.2,575.3 1526.7,574.3 1526.2,573.2 1526.7,572.4 1526.6,571.4 1525.4,569.9 1524.4,567.8 1524.2,565.3 1524.8,562.7 1526.4,560.2 1528.4,557.6 1529.4,555.6 1529.6,553.5 1530.4,552.3" fill="#232323"/>
<ellipse cx="1531.6" cy="553.2257142857143" rx="1.2" ry="1.6342857142857157" fill="#232323"/>
<polygon points="1867.3,793.0 1868.0,794.0 1868.2,795.8 1869.1,797.6 1870.8,799.8 1872.2,802.0 1872.7,804.2 1872.5,806.4 1871.7,808.2 1870.6,809.5 1870.5,810.4 1871.0,811.1 1870.5,812.0 1871.0,812.9 1870.6,814.0 1871.7,814.8 1872.4,815.6 1872.2,816.9 1871.5,817.5 1861.1,817.5 1860.4,816.9 1860.2,815.6 1860.9,814.8 1862.0,814.0 1861.6,812.9 1862.1,812.0 1861.6,811.1 1862.1,810.4 1862.0,809.5 1860.9,808.2 1860.1,806.4 1859.9,804.2 1860.4,802.0 1861.8,799.8 1863.5,797.6 1864.4,795.8 1864.6,794.0 1865.3,793.0" fill="#232323"/>
<ellipse cx="1866.3" cy="793.7628571428572" rx="1.037837837837838" ry="1.4171428571428546" fill="#232323"/>
<polygon points="160.8,742.4 213.5,652.9 210.5,651.1 157.8,740.6" fill="#262626" />
<polygon points="160.6,753.6 222.3,677.3 219.7,675.1 158.0,751.4" fill="#262626" />
<ellipse cx="211" cy="654.5" rx="8" ry="13.5" fill="none" stroke="#1e1e1e" stroke-width="1.7" transform="rotate(-8 211 654.5)"/>
<polygon points="619.8,842.9 663.8,934.4 667.6,932.6 623.6,841.1" fill="#222222" />
<line x1="730.8" y1="878.0" x2="674.5" y2="942.3" stroke="#2a2a2a" stroke-width="2.2" stroke-linecap="butt" />
<polygon points="1568.5,605 1576.5,605 1543,702 1541.5,690" fill="#1a1a1a"/>
<line x1="1443.3" y1="638.7" x2="1520.7" y2="719.8" stroke="#1e1e1e" stroke-width="2.4" stroke-linecap="butt" />
<polygon points="1834.4,824.7 1863.4,928.3 1868.6,926.9 1839.6,823.3" fill="#1e1e1e" />
<line x1="1791.5" y1="867.1" x2="1858.6" y2="936.7" stroke="#333" stroke-width="1.6" stroke-linecap="butt" />
<ellipse cx="836.9" cy="831.4" rx="5" ry="2.8" fill="#ffffff"/>
<ellipse cx="1016.8" cy="828" rx="5" ry="2.8" fill="#ffffff"/>
<ellipse cx="1380" cy="823.2" rx="5" ry="2.8" fill="#ffffff"/>
<ellipse cx="1570.8" cy="820.4" rx="5" ry="2.8" fill="#ffffff"/>
<rect x="167.8" y="629.5" width="10.5" height="8.5" rx="2.2" fill="#dcdcdc"/>
<rect x="169.9" y="631.7" width="6.1" height="2.2" rx="1" fill="#2a2a2a"/>
<rect x="315.2" y="624.2" width="10.5" height="8.5" rx="2.2" fill="#dcdcdc"/>
<rect x="317.4" y="626.4" width="6.1" height="2.2" rx="1" fill="#2a2a2a"/>
<rect x="458.1" y="619.1" width="10.5" height="8.5" rx="2.2" fill="#dcdcdc"/>
<rect x="460.3" y="621.3" width="6.1" height="2.2" rx="1" fill="#2a2a2a"/>
<rect x="615.0" y="613.8" width="10.5" height="8.5" rx="2.2" fill="#dcdcdc"/>
<rect x="617.2" y="616.0" width="6.1" height="2.2" rx="1" fill="#2a2a2a"/>
<rect x="755.4" y="609.0" width="10.5" height="8.5" rx="2.2" fill="#dcdcdc"/>
<rect x="757.6" y="611.2" width="6.1" height="2.2" rx="1" fill="#2a2a2a"/>
<rect x="976.6" y="601.5" width="10.5" height="8.5" rx="2.2" fill="#dcdcdc"/>
<rect x="978.9" y="603.7" width="6.1" height="2.2" rx="1" fill="#2a2a2a"/>
<rect x="1148.2" y="595.5" width="10.5" height="8.5" rx="2.2" fill="#dcdcdc"/>
<rect x="1150.4" y="597.7" width="6.1" height="2.2" rx="1" fill="#2a2a2a"/>
<rect x="1314.8" y="589.2" width="10.5" height="8.5" rx="2.2" fill="#dcdcdc"/>
<rect x="1317.0" y="591.4" width="6.1" height="2.2" rx="1" fill="#2a2a2a"/>
<rect x="1494.8" y="582.3" width="10.5" height="8.5" rx="2.2" fill="#dcdcdc"/>
<rect x="1497.0" y="584.5" width="6.1" height="2.2" rx="1" fill="#2a2a2a"/>
<rect x="221.0" y="643.5" width="4" height="11" fill="#cfcfcf" transform="rotate(-10 223 649)"/>
<rect x="307.7" y="673.5" width="4" height="11" fill="#cfcfcf" transform="rotate(-10 309.7 679)"/>
<rect x="391.5" y="718.5" width="4" height="11" fill="#cfcfcf" transform="rotate(-10 393.5 724)"/>
<rect x="470.4" y="765.5" width="4" height="11" fill="#cfcfcf" transform="rotate(-10 472.4 771)"/>
<rect x="546.2" y="805.5" width="4" height="11" fill="#cfcfcf" transform="rotate(-10 548.2 811)"/>
<rect x="629.4" y="831.5" width="4" height="11" fill="#cfcfcf" transform="rotate(-10 631.4 837)"/>
<rect x="687.9" y="839.8" width="6" height="7" fill="#c8c8c8" transform="rotate(0 690.9 843.3)"/>
<rect x="816.8" y="837.9" width="6" height="7" fill="#c8c8c8" transform="rotate(0 819.8 841.4)"/>
<rect x="943.3" y="836.0" width="6" height="7" fill="#c8c8c8" transform="rotate(0 946.3 839.5)"/>
<rect x="1080.3" y="833.8" width="6" height="7" fill="#c8c8c8" transform="rotate(0 1083.3 837.3)"/>
<rect x="1202.7" y="832.5" width="6" height="7" fill="#c8c8c8" transform="rotate(0 1205.7 836)"/>
<rect x="1393.3" y="830.0" width="6" height="7" fill="#c8c8c8" transform="rotate(0 1396.3 833.5)"/>
<rect x="1542.3" y="828.5" width="6" height="7" fill="#c8c8c8" transform="rotate(0 1545.3 832)"/>
<rect x="1683.6" y="825.3" width="6" height="7" fill="#c8c8c8" transform="rotate(0 1686.6 828.8)"/>
<path d="M862.4,620.3 L862.4,629.3 Q862.4,632.3 858.4,632.3 L853.4,632.3" fill="none" stroke="#d6d6d6" stroke-width="2.6"/>
<path d="M936.4,651.3 L936.4,660.3 Q936.4,663.3 932.4,663.3 L927.4,663.3" fill="none" stroke="#d6d6d6" stroke-width="2.6"/>
<path d="M1006.4,699.7 L1006.4,708.7 Q1006.4,711.7 1002.4,711.7 L997.4,711.7" fill="none" stroke="#d6d6d6" stroke-width="2.6"/>
<path d="M1074.1,755.9 L1074.1,764.9 Q1074.1,767.9 1070.1,767.9 L1065.1,767.9" fill="none" stroke="#d6d6d6" stroke-width="2.6"/>
<path d="M1137.4,796.3 L1137.4,805.3 Q1137.4,808.3 1133.4,808.3 L1128.4,808.3" fill="none" stroke="#d6d6d6" stroke-width="2.6"/>
<path d="M1208.7,824.6 L1208.7,833.6 Q1208.7,836.6 1204.7,836.6 L1199.7,836.6" fill="none" stroke="#d6d6d6" stroke-width="2.6"/>
<path d="M1584.8,594.0 L1584.8,604.0 Q1584.8,607.0 1580.8,607.0 L1575.8,607.0" fill="none" stroke="#d8d8d8" stroke-width="2.8"/>
<path d="M1640.7,626.2 L1640.7,636.2 Q1640.7,639.2 1636.7,639.2 L1631.7,639.2" fill="none" stroke="#d8d8d8" stroke-width="2.8"/>
<path d="M1694.5,682.0 L1694.5,692.0 Q1694.5,695.0 1690.5,695.0 L1685.5,695.0" fill="none" stroke="#d8d8d8" stroke-width="2.8"/>
<path d="M1744.9,740.4 L1744.9,750.4 Q1744.9,753.4 1740.9,753.4 L1735.9,753.4" fill="none" stroke="#d8d8d8" stroke-width="2.8"/>
<path d="M1794.0,784.4 L1794.0,794.4 Q1794.0,797.4 1790.0,797.4 L1785.0,797.4" fill="none" stroke="#d8d8d8" stroke-width="2.8"/>
<path d="M1847.1,812.9 L1847.1,822.9 Q1847.1,825.9 1843.1,825.9 L1838.1,825.9" fill="none" stroke="#d8d8d8" stroke-width="2.8"/>
<polyline points="432.8,626.5 433.9,626.7 434.9,627.0 435.9,627.5 436.9,628.1 437.8,628.8 438.6,629.7 439.4,630.6 440.1,631.6 440.7,632.7 441.2,633.8 441.6,635.0 441.9,636.2 442.1,637.5 442.2,638.8 442.3,640.0 442.2,641.3 442.0,642.5 441.8,643.6 441.4,644.8 441.0,645.8 440.5,646.8 440.0,647.7 439.3,648.5 438.7,649.2 438.0,649.9 437.2,650.4 436.4,650.8 435.7,651.1 434.8,651.3 434.0,651.4 433.3,651.4 432.5,651.2 431.7,651.0 431.0,650.7 430.3,650.3 429.7,649.8 429.1,649.2 428.5,648.6 428.0,647.9 427.6,647.1 427.3,646.4 427.0,645.5 426.8,644.7 426.6,643.8 426.5,643.0 426.5,642.1 426.5,641.3 426.7,640.5 426.8,639.7 427.0,639.0 427.3,638.3 427.6,637.6 428.0,637.0 428.4,636.5 428.8,636.1 429.3,635.7 429.8,635.3 430.3,635.1 430.8,634.9 431.3,634.8" fill="none" stroke="#1e1e1e" stroke-width="1.8" stroke-linecap="round"/>
<polyline points="499.4,629.5 498.3,629.7 497.3,630.0 496.3,630.5 495.3,631.1 494.4,631.8 493.6,632.6 492.8,633.4 492.1,634.4 491.5,635.5 491.0,636.6 490.6,637.7 490.3,638.9 490.1,640.1 490.0,641.3 489.9,642.6 490.0,643.8 490.2,644.9 490.4,646.1 490.8,647.1 491.2,648.2 491.7,649.1 492.2,650.0 492.9,650.8 493.5,651.5 494.2,652.1 495.0,652.6 495.8,653.0 496.5,653.3 497.4,653.4 498.2,653.5 498.9,653.5 499.7,653.4 500.5,653.2 501.2,652.9 501.9,652.5 502.5,652.0 503.1,651.4 503.7,650.8 504.2,650.2 504.6,649.4 504.9,648.7 505.2,647.9 505.4,647.1 505.6,646.2 505.7,645.4 505.7,644.6 505.7,643.8 505.5,643.0 505.4,642.3 505.2,641.5 504.9,640.9 504.6,640.2 504.2,639.7 503.8,639.2 503.4,638.7 502.9,638.3 502.4,638.0 501.9,637.8 501.4,637.6 500.9,637.5" fill="none" stroke="#1e1e1e" stroke-width="1.8" stroke-linecap="round"/>
<polyline points="734.0,620.0 735.1,620.2 736.1,620.5 737.1,621.0 738.1,621.6 739.0,622.3 739.8,623.1 740.6,623.9 741.3,624.9 741.9,626.0 742.4,627.1 742.8,628.2 743.1,629.4 743.3,630.6 743.4,631.8 743.5,633.1 743.4,634.3 743.2,635.4 743.0,636.6 742.6,637.6 742.2,638.7 741.7,639.6 741.2,640.5 740.5,641.3 739.9,642.0 739.2,642.6 738.4,643.1 737.6,643.5 736.9,643.8 736.0,643.9 735.2,644.0 734.5,644.0 733.7,643.9 732.9,643.7 732.2,643.4 731.5,643.0 730.9,642.5 730.3,641.9 729.7,641.3 729.2,640.7 728.8,639.9 728.5,639.2 728.2,638.4 728.0,637.6 727.8,636.7 727.7,635.9 727.7,635.1 727.7,634.3 727.9,633.5 728.0,632.8 728.2,632.0 728.5,631.4 728.8,630.7 729.2,630.2 729.6,629.7 730.0,629.2 730.5,628.8 731.0,628.5 731.5,628.3 732.0,628.1 732.5,628.0" fill="none" stroke="#1e1e1e" stroke-width="1.8" stroke-linecap="round"/>
<polyline points="1110.0,609.5 1109.0,609.7 1108.1,610.0 1107.1,610.5 1106.3,611.0 1105.4,611.7 1104.7,612.4 1104.0,613.3 1103.4,614.2 1102.8,615.3 1102.4,616.3 1102.0,617.4 1101.7,618.6 1101.5,619.7 1101.4,620.9 1101.4,622.1 1101.5,623.2 1101.6,624.4 1101.9,625.5 1102.2,626.5 1102.5,627.5 1103.0,628.4 1103.5,629.2 1104.1,630.0 1104.7,630.7 1105.3,631.3 1106.0,631.7 1106.7,632.1 1107.4,632.4 1108.1,632.6 1108.9,632.7 1109.6,632.6 1110.3,632.5 1111.0,632.3 1111.6,632.0 1112.3,631.6 1112.9,631.2 1113.4,630.7 1113.9,630.1 1114.3,629.4 1114.7,628.7 1115.0,628.0 1115.3,627.2 1115.5,626.4 1115.6,625.6 1115.7,624.9 1115.7,624.1 1115.7,623.3 1115.6,622.5 1115.4,621.8 1115.2,621.1 1115.0,620.5 1114.7,619.9 1114.4,619.3 1114.0,618.8 1113.6,618.4 1113.2,618.0 1112.7,617.7 1112.3,617.5 1111.8,617.3 1111.4,617.2" fill="none" stroke="#1e1e1e" stroke-width="1.8" stroke-linecap="round"/>
<polyline points="1187.6,606.5 1188.6,606.7 1189.5,607.0 1190.5,607.5 1191.3,608.0 1192.2,608.7 1192.9,609.4 1193.6,610.3 1194.2,611.2 1194.8,612.3 1195.2,613.3 1195.6,614.4 1195.9,615.6 1196.1,616.7 1196.2,617.9 1196.2,619.1 1196.1,620.2 1196.0,621.4 1195.7,622.5 1195.4,623.5 1195.1,624.5 1194.6,625.4 1194.1,626.2 1193.5,627.0 1192.9,627.7 1192.3,628.3 1191.6,628.7 1190.9,629.1 1190.2,629.4 1189.5,629.6 1188.7,629.7 1188.0,629.6 1187.3,629.5 1186.6,629.3 1186.0,629.0 1185.3,628.6 1184.7,628.2 1184.2,627.7 1183.7,627.1 1183.3,626.4 1182.9,625.7 1182.6,625.0 1182.3,624.2 1182.1,623.4 1182.0,622.6 1181.9,621.9 1181.9,621.1 1181.9,620.3 1182.0,619.5 1182.2,618.8 1182.4,618.1 1182.6,617.5 1182.9,616.9 1183.2,616.3 1183.6,615.8 1184.0,615.4 1184.4,615.0 1184.9,614.7 1185.3,614.5 1185.8,614.3 1186.2,614.2" fill="none" stroke="#1e1e1e" stroke-width="1.8" stroke-linecap="round"/>
<polyline points="1452.0,600.0 1451.1,600.2 1450.2,600.5 1449.3,600.9 1448.5,601.5 1447.7,602.1 1447.0,602.8 1446.3,603.7 1445.7,604.6 1445.2,605.5 1444.8,606.6 1444.4,607.6 1444.1,608.7 1444.0,609.9 1443.9,611.0 1443.8,612.1 1443.9,613.2 1444.0,614.3 1444.3,615.4 1444.6,616.4 1444.9,617.3 1445.3,618.2 1445.8,619.0 1446.4,619.7 1446.9,620.4 1447.5,621.0 1448.2,621.4 1448.9,621.8 1449.5,622.1 1450.2,622.2 1450.9,622.3 1451.6,622.3 1452.3,622.2 1452.9,622.0 1453.6,621.7 1454.2,621.3 1454.7,620.9 1455.2,620.4 1455.7,619.8 1456.1,619.2 1456.5,618.5 1456.8,617.8 1457.0,617.1 1457.2,616.3 1457.4,615.6 1457.4,614.8 1457.4,614.0 1457.4,613.3 1457.3,612.5 1457.2,611.8 1457.0,611.2 1456.7,610.6 1456.5,610.0 1456.1,609.4 1455.8,609.0 1455.4,608.6 1455.0,608.2 1454.6,607.9 1454.2,607.7 1453.8,607.5 1453.3,607.4" fill="none" stroke="#1e1e1e" stroke-width="1.8" stroke-linecap="round"/>
<ellipse cx="862" cy="627" rx="10.5" ry="13" fill="none" stroke="#1e1e1e" stroke-width="1.8"/>
<polygon points="794.0,619.0 794.0,652.0 798.0,652.0 798.0,619.0" fill="#2e2e2e" />
<circle cx="786" cy="613.2" r="2.2" fill="#1a1a1a"/>
<circle cx="808" cy="612.4" r="2.2" fill="#1a1a1a"/>
<line x1="224.0" y1="636.0" x2="731.0" y2="651.0" stroke="#2a2a2a" stroke-width="0.9" stroke-linecap="butt" opacity="0.8"/>
<line x1="862.0" y1="640.0" x2="1110.0" y2="626.0" stroke="#2a2a2a" stroke-width="0.9" stroke-linecap="butt" opacity="0.8"/>
<line x1="1187.0" y1="607.0" x2="1452.0" y2="600.0" stroke="#2a2a2a" stroke-width="0.9" stroke-linecap="butt" opacity="0.8"/>
<polyline points="723.3,845.5 722.4,845.7 721.5,846.0 720.7,846.5 719.9,847.1 719.1,847.7 718.4,848.5 717.7,849.4 717.2,850.4 716.7,851.4 716.2,852.5 715.8,853.6 715.6,854.8 715.4,856.0 715.2,857.2 715.2,858.4 715.2,859.6 715.3,860.8 715.5,862.0 715.7,863.1 716.0,864.1 716.4,865.1 716.8,866.0 717.3,866.9 717.8,867.6 718.4,868.3 719.0,868.9 719.6,869.4 720.3,869.7 720.9,870.0 721.6,870.2 722.3,870.3 722.9,870.2 723.5,870.1 724.2,869.9 724.8,869.6 725.3,869.2 725.9,868.7 726.4,868.2 726.8,867.6 727.2,867.0 727.6,866.3 727.9,865.5 728.1,864.7 728.3,863.9 728.5,863.1 728.6,862.3 728.6,861.5 728.6,860.7 728.5,859.9 728.4,859.2 728.3,858.5 728.1,857.8 727.8,857.1 727.5,856.6 727.2,856.0 726.9,855.5 726.5,855.1 726.2,854.8 725.8,854.5 725.4,854.3" fill="none" stroke="#4a4a4a" stroke-width="1.2" stroke-linecap="round"/>
<polyline points="918.9,842.5 919.8,842.7 920.7,843.0 921.5,843.5 922.3,844.1 923.1,844.7 923.8,845.5 924.5,846.4 925.0,847.4 925.5,848.4 926.0,849.5 926.4,850.6 926.6,851.8 926.8,853.0 927.0,854.2 927.0,855.4 927.0,856.6 926.9,857.8 926.7,859.0 926.5,860.1 926.2,861.1 925.8,862.1 925.4,863.0 924.9,863.9 924.4,864.6 923.8,865.3 923.2,865.9 922.6,866.4 921.9,866.7 921.3,867.0 920.6,867.2 919.9,867.3 919.3,867.2 918.7,867.1 918.0,866.9 917.4,866.6 916.9,866.2 916.3,865.7 915.8,865.2 915.4,864.6 915.0,864.0 914.6,863.3 914.3,862.5 914.1,861.7 913.9,860.9 913.7,860.1 913.6,859.3 913.6,858.5 913.6,857.7 913.7,856.9 913.8,856.2 913.9,855.5 914.1,854.8 914.4,854.1 914.7,853.6 915.0,853.0 915.3,852.5 915.7,852.1 916.0,851.8 916.4,851.5 916.8,851.3" fill="none" stroke="#4a4a4a" stroke-width="1.2" stroke-linecap="round"/>
<polyline points="976.4,842.5 975.5,842.7 974.6,843.0 973.8,843.5 973.0,844.1 972.2,844.7 971.5,845.5 970.8,846.4 970.3,847.4 969.8,848.4 969.3,849.5 968.9,850.6 968.7,851.8 968.5,853.0 968.3,854.2 968.3,855.4 968.3,856.6 968.4,857.8 968.6,859.0 968.8,860.1 969.1,861.1 969.5,862.1 969.9,863.0 970.4,863.9 970.9,864.6 971.5,865.3 972.1,865.9 972.7,866.4 973.4,866.7 974.0,867.0 974.7,867.2 975.4,867.3 976.0,867.2 976.6,867.1 977.3,866.9 977.9,866.6 978.4,866.2 979.0,865.7 979.5,865.2 979.9,864.6 980.3,864.0 980.7,863.3 981.0,862.5 981.2,861.7 981.4,860.9 981.6,860.1 981.7,859.3 981.7,858.5 981.7,857.7 981.6,856.9 981.5,856.2 981.4,855.5 981.2,854.8 980.9,854.1 980.6,853.6 980.3,853.0 980.0,852.5 979.6,852.1 979.3,851.8 978.9,851.5 978.5,851.3" fill="none" stroke="#4a4a4a" stroke-width="1.2" stroke-linecap="round"/>
<polyline points="1179.8,840.5 1180.7,840.7 1181.6,841.0 1182.4,841.5 1183.2,842.1 1184.0,842.7 1184.7,843.5 1185.4,844.4 1185.9,845.4 1186.4,846.4 1186.9,847.5 1187.3,848.6 1187.5,849.8 1187.7,851.0 1187.9,852.2 1187.9,853.4 1187.9,854.6 1187.8,855.8 1187.6,857.0 1187.4,858.1 1187.1,859.1 1186.7,860.1 1186.3,861.0 1185.8,861.9 1185.3,862.6 1184.7,863.3 1184.1,863.9 1183.5,864.4 1182.8,864.7 1182.2,865.0 1181.5,865.2 1180.8,865.3 1180.2,865.2 1179.6,865.1 1178.9,864.9 1178.3,864.6 1177.8,864.2 1177.2,863.7 1176.7,863.2 1176.3,862.6 1175.9,862.0 1175.5,861.3 1175.2,860.5 1175.0,859.7 1174.8,858.9 1174.6,858.1 1174.5,857.3 1174.5,856.5 1174.5,855.7 1174.6,854.9 1174.7,854.2 1174.8,853.5 1175.0,852.8 1175.3,852.1 1175.6,851.6 1175.9,851.0 1176.2,850.5 1176.6,850.1 1176.9,849.8 1177.3,849.5 1177.7,849.3" fill="none" stroke="#4a4a4a" stroke-width="1.2" stroke-linecap="round"/>
<polyline points="1291.6,838.0 1290.7,838.2 1289.8,838.5 1289.0,839.0 1288.2,839.6 1287.4,840.2 1286.7,841.0 1286.0,841.9 1285.5,842.9 1285.0,843.9 1284.5,845.0 1284.1,846.1 1283.9,847.3 1283.7,848.5 1283.5,849.7 1283.5,850.9 1283.5,852.1 1283.6,853.3 1283.8,854.5 1284.0,855.6 1284.3,856.6 1284.7,857.6 1285.1,858.5 1285.6,859.4 1286.1,860.1 1286.7,860.8 1287.3,861.4 1287.9,861.9 1288.6,862.2 1289.2,862.5 1289.9,862.7 1290.6,862.8 1291.2,862.7 1291.8,862.6 1292.5,862.4 1293.1,862.1 1293.6,861.7 1294.2,861.2 1294.7,860.7 1295.1,860.1 1295.5,859.5 1295.9,858.8 1296.2,858.0 1296.4,857.2 1296.6,856.4 1296.8,855.6 1296.9,854.8 1296.9,854.0 1296.9,853.2 1296.8,852.4 1296.7,851.7 1296.6,851.0 1296.4,850.3 1296.1,849.6 1295.8,849.1 1295.5,848.5 1295.2,848.0 1294.8,847.6 1294.5,847.3 1294.1,847.0 1293.7,846.8" fill="none" stroke="#4a4a4a" stroke-width="1.2" stroke-linecap="round"/>
<polyline points="1508.0,835.0 1508.9,835.2 1509.8,835.5 1510.6,836.0 1511.4,836.6 1512.2,837.2 1512.9,838.0 1513.6,838.9 1514.1,839.9 1514.6,840.9 1515.1,842.0 1515.5,843.1 1515.7,844.3 1515.9,845.5 1516.1,846.7 1516.1,847.9 1516.1,849.1 1516.0,850.3 1515.8,851.5 1515.6,852.6 1515.3,853.6 1514.9,854.6 1514.5,855.5 1514.0,856.4 1513.5,857.1 1512.9,857.8 1512.3,858.4 1511.7,858.9 1511.0,859.2 1510.4,859.5 1509.7,859.7 1509.0,859.8 1508.4,859.7 1507.8,859.6 1507.1,859.4 1506.5,859.1 1506.0,858.7 1505.4,858.2 1504.9,857.7 1504.5,857.1 1504.1,856.5 1503.7,855.8 1503.4,855.0 1503.2,854.2 1503.0,853.4 1502.8,852.6 1502.7,851.8 1502.7,851.0 1502.7,850.2 1502.8,849.4 1502.9,848.7 1503.0,848.0 1503.2,847.3 1503.5,846.6 1503.8,846.1 1504.1,845.5 1504.4,845.0 1504.8,844.6 1505.1,844.3 1505.5,844.0 1505.9,843.8" fill="none" stroke="#4a4a4a" stroke-width="1.2" stroke-linecap="round"/>
<polyline points="1573.3,833.5 1572.4,833.7 1571.5,834.0 1570.7,834.5 1569.9,835.1 1569.1,835.7 1568.4,836.5 1567.7,837.4 1567.2,838.4 1566.7,839.4 1566.2,840.5 1565.8,841.6 1565.6,842.8 1565.4,844.0 1565.2,845.2 1565.2,846.4 1565.2,847.6 1565.3,848.8 1565.5,850.0 1565.7,851.1 1566.0,852.1 1566.4,853.1 1566.8,854.0 1567.3,854.9 1567.8,855.6 1568.4,856.3 1569.0,856.9 1569.6,857.4 1570.3,857.7 1570.9,858.0 1571.6,858.2 1572.3,858.3 1572.9,858.2 1573.5,858.1 1574.2,857.9 1574.8,857.6 1575.3,857.2 1575.9,856.7 1576.4,856.2 1576.8,855.6 1577.2,855.0 1577.6,854.3 1577.9,853.5 1578.1,852.7 1578.3,851.9 1578.5,851.1 1578.6,850.3 1578.6,849.5 1578.6,848.7 1578.5,847.9 1578.4,847.2 1578.3,846.5 1578.1,845.8 1577.8,845.1 1577.5,844.6 1577.2,844.0 1576.9,843.5 1576.5,843.1 1576.2,842.8 1575.8,842.5 1575.4,842.3" fill="none" stroke="#4a4a4a" stroke-width="1.2" stroke-linecap="round"/>
<polyline points="1798.4,832.5 1799.3,832.7 1800.2,833.0 1801.0,833.5 1801.8,834.1 1802.6,834.7 1803.3,835.5 1804.0,836.4 1804.5,837.4 1805.0,838.4 1805.5,839.5 1805.9,840.6 1806.1,841.8 1806.3,843.0 1806.5,844.2 1806.5,845.4 1806.5,846.6 1806.4,847.8 1806.2,849.0 1806.0,850.1 1805.7,851.1 1805.3,852.1 1804.9,853.0 1804.4,853.9 1803.9,854.6 1803.3,855.3 1802.7,855.9 1802.1,856.4 1801.4,856.7 1800.8,857.0 1800.1,857.2 1799.4,857.3 1798.8,857.2 1798.2,857.1 1797.5,856.9 1796.9,856.6 1796.4,856.2 1795.8,855.7 1795.3,855.2 1794.9,854.6 1794.5,854.0 1794.1,853.3 1793.8,852.5 1793.6,851.7 1793.4,850.9 1793.2,850.1 1793.1,849.3 1793.1,848.5 1793.1,847.7 1793.2,846.9 1793.3,846.2 1793.4,845.5 1793.6,844.8 1793.9,844.1 1794.2,843.6 1794.5,843.0 1794.8,842.5 1795.2,842.1 1795.5,841.8 1795.9,841.5 1796.3,841.3" fill="none" stroke="#4a4a4a" stroke-width="1.2" stroke-linecap="round"/>
<polygon points="768.2,662.7 830.2,660.8 829.8,649.8 767.8,651.7" fill="#2a2a2a" />
<circle cx="778" cy="656.9" r="2" fill="#1a1a1a"/>
<circle cx="792" cy="656.5" r="2" fill="#1a1a1a"/>
<circle cx="806" cy="656.1" r="2" fill="#1a1a1a"/>
<circle cx="820" cy="655.6" r="2" fill="#1a1a1a"/>
<g stroke="#444546" stroke-width="3" fill="none" stroke-linecap="round" stroke-linejoin="miter">
<polyline points="363.5,494.4 800.5,494.4 800.5,790"/>
<polyline points="1746.4,546.5 1746.4,727.7 1738,727.7"/>
<polyline points="649,1250.8 409.5,1250.8 409.5,1683"/>
<polyline points="1864.3,1483 1864.3,1596 1425.6,1596 1425.6,1732"/>
</g>
<circle cx="798.1" cy="802.9" r="12.4" fill="#ffffff" stroke="#555555" stroke-width="6.2"/>
<circle cx="1724" cy="727.7" r="12.4" fill="#ffffff" stroke="#555555" stroke-width="6.2"/>
<circle cx="664" cy="1251.8" r="12.4" fill="#ffffff" stroke="#555555" stroke-width="6.2"/>
<circle cx="1863" cy="1467.8" r="12.4" fill="#ffffff" stroke="#555555" stroke-width="6.2"/>
</svg></body></html>
